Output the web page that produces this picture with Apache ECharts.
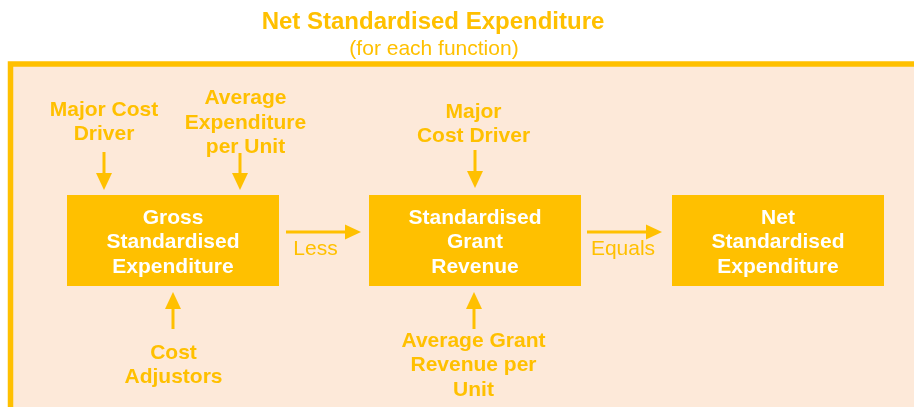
<!DOCTYPE html>
<html>
<head>
<meta charset="utf-8">
<script src="https://cdn.jsdelivr.net/npm/echarts@6/dist/echarts.min.js"></script>
<style>
html,body{margin:0;padding:0;background:#ffffff;}
#chart{width:914px;height:407px;}
</style>
</head>
<body>
<div id="chart"></div>
<script>
// ---- Content ----
const titleText = 'Net Standardised Expenditure';
const subtitleText = '(for each function)';
const boxLabels = ['Gross\nStandardised\nExpenditure', 'Standardised\nGrant\nRevenue', 'Net\nStandardised\nExpenditure'];
const connectorLabels = ['Less', 'Equals'];
const topInputLabels = ['Major Cost\nDriver', 'Average\nExpenditure\nper Unit', 'Major\nCost Driver'];
const bottomInputLabels = ['Cost\nAdjustors', 'Average Grant\nRevenue per\nUnit'];

// ---- Style ----
const ORANGE = '#FFC000';
const PEACH = '#FDE9D9';
const FONT = '"Liberation Sans", Arial, Helvetica, sans-serif';
const DY = 1.5; // text baseline adjustment

const chart = echarts.init(document.getElementById('chart'), null, {renderer: 'canvas'});

function text(str, x, y, opts) {
  return {
    type: 'text', x: x, y: y + DY, z: 10,
    style: Object.assign({
      text: str, fill: ORANGE, align: 'center', verticalAlign: 'middle',
      font: 'bold 21px ' + FONT, lineHeight: 24.5
    }, opts || {})
  };
}
function arrowV(x, y1, yTip) {
  const dir = yTip > y1 ? 1 : -1;
  const headLen = 17, headHalf = 8;
  const base = yTip - dir * headLen;
  return [
    {type: 'line', z: 5, shape: {x1: x, y1: y1, x2: x, y2: base}, style: {stroke: ORANGE, lineWidth: 3}},
    {type: 'polygon', z: 5, shape: {points: [[x - headHalf, base], [x + headHalf, base], [x, yTip]]}, style: {fill: ORANGE}}
  ];
}
function arrowH(x1, xTip, y) {
  const headLen = 16, headHalf = 7.5;
  const base = xTip - headLen;
  return [
    {type: 'line', z: 5, shape: {x1: x1, y1: y, x2: base, y2: y}, style: {stroke: ORANGE, lineWidth: 3}},
    {type: 'polygon', z: 5, shape: {points: [[base, y - headHalf], [base, y + headHalf], [xTip, y]]}, style: {fill: ORANGE}}
  ];
}

const elements = [];
// title
elements.push(text(titleText, 433, 20.5, {font: 'bold 24px ' + FONT}));
elements.push(text(subtitleText, 434, 47.5, {font: '21px ' + FONT}));
// frame
elements.push({type: 'rect', z: 1, shape: {x: 10.5, y: 64, width: 1000, height: 500},
  style: {fill: PEACH, stroke: ORANGE, lineWidth: 5.5}});

// boxes
const boxX = [67, 369, 672];
const boxW = 212, boxY = 195, boxH = 91;
boxLabels.forEach(function (lbl, i) {
  elements.push({type: 'rect', z: 3, shape: {x: boxX[i], y: boxY, width: boxW, height: boxH}, style: {fill: ORANGE}});
  elements.push(text(lbl, boxX[i] + boxW / 2, boxY + boxH / 2 + 0.5, {fill: '#ffffff'}));
});

// connectors
const connArrow = [[286, 361], [587, 662]];
const connTextX = [315.5, 623];
connectorLabels.forEach(function (lbl, i) {
  Array.prototype.push.apply(elements, arrowH(connArrow[i][0], connArrow[i][1], 232));
  elements.push(text(lbl, connTextX[i], 248, {font: '21px ' + FONT}));
});

// top inputs
const topLabelPos = [[104, 120.5], [245.5, 121.5], [473.5, 122.5]];
const topArrow = [[104, 152, 190], [240, 153, 190], [475, 150, 188]];
topInputLabels.forEach(function (lbl, i) {
  elements.push(text(lbl, topLabelPos[i][0], topLabelPos[i][1]));
  Array.prototype.push.apply(elements, arrowV(topArrow[i][0], topArrow[i][1], topArrow[i][2]));
});

// bottom inputs
const bottomLabelPos = [[173.5, 363.5], [473.5, 364]];
const bottomArrow = [[173, 329, 292], [474, 329, 292]];
bottomInputLabels.forEach(function (lbl, i) {
  elements.push(text(lbl, bottomLabelPos[i][0], bottomLabelPos[i][1]));
  Array.prototype.push.apply(elements, arrowV(bottomArrow[i][0], bottomArrow[i][1], bottomArrow[i][2]));
});

chart.setOption({
  backgroundColor: '#ffffff',
  animation: false,
  graphic: {elements: elements}
});
</script>
</body>
</html>
